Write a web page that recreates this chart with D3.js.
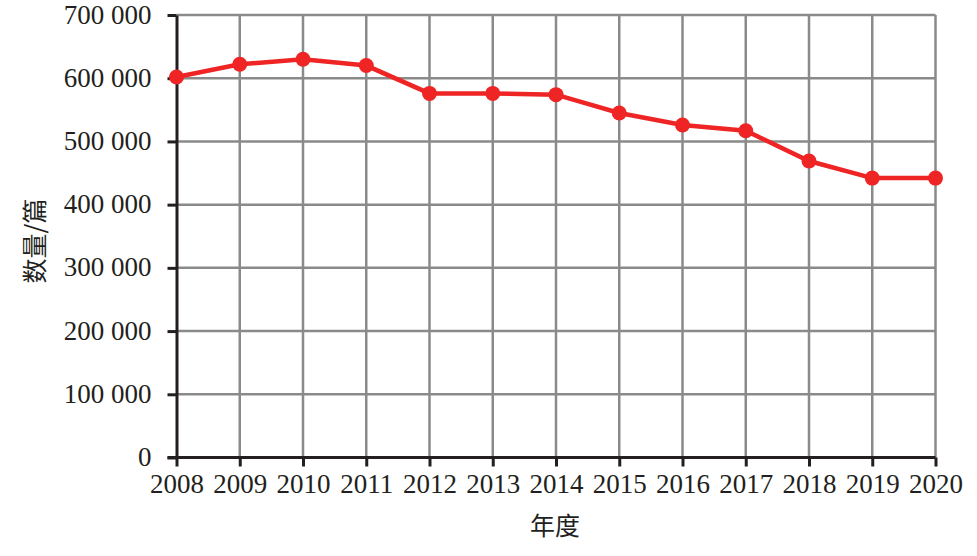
<!DOCTYPE html>
<html>
<head>
<meta charset="utf-8">
<script src="https://cdn.jsdelivr.net/npm/d3@7"></script>
<style>
  body { margin: 0; background: #fff; }
  .tick text { font-family: "Liberation Serif", "DejaVu Serif", serif; font-size: 27px; fill: #231f20; }
  .cjk { font-family: "Noto Sans CJK SC", sans-serif; font-size: 25px; fill: #231f20; }
</style>
</head>
<body>
<script>
var years = [2008, 2009, 2010, 2011, 2012, 2013, 2014, 2015, 2016, 2017, 2018, 2019, 2020];
var counts = [602000, 622000, 630000, 620000, 576000, 576000, 574000, 545000, 526000, 517000, 469000, 442000, 442000];
var yTicks = [0, 100000, 200000, 300000, 400000, 500000, 600000, 700000];

var w = 977, h = 556;
var mLeft = 176.5, mRight = 935.5, mTop = 15, mBottom = 457.5;
var lineColor = '#ee2524', gridColor = '#8a8a8a', axisColor = '#231f20';

var svg = d3.select('body')
    .append('svg')
    .attr('width', w)
    .attr('height', h);

var x = d3.scalePoint()
    .domain(years)
    .range([mLeft, mRight]);
var y = d3.scaleLinear()
    .domain([0, 700000])
    .range([mBottom, mTop]);

var fmt = function(d) {
    return d3.format(',')(d).replace(/,/g, ' ');
};

// grid
svg.append('g')
    .selectAll('line')
    .data(yTicks.slice(1))
    .join('line')
    .attr('x1', mLeft).attr('x2', mRight)
    .attr('y1', function(d) { return y(d); })
    .attr('y2', function(d) { return y(d); })
    .attr('stroke', gridColor)
    .attr('stroke-width', 2.5);
svg.append('g')
    .selectAll('line')
    .data(years.slice(1))
    .join('line')
    .attr('x1', function(d) { return x(d); })
    .attr('x2', function(d) { return x(d); })
    .attr('y1', mTop).attr('y2', mBottom)
    .attr('stroke', gridColor)
    .attr('stroke-width', 2.5);

// axes
var xAxis = svg.append('g')
    .attr('transform', 'translate(0,' + mBottom + ')')
    .call(d3.axisBottom(x).tickSize(9).tickPadding(6).tickSizeOuter(0));
var yAxis = svg.append('g')
    .attr('transform', 'translate(' + mLeft + ',0)')
    .call(d3.axisLeft(y).tickValues(yTicks).tickFormat(fmt).tickSize(9).tickPadding(16).tickSizeOuter(0));
[xAxis, yAxis].forEach(function(a) {
    a.select('.domain').attr('stroke', axisColor).attr('stroke-width', 3);
    a.selectAll('.tick line').attr('stroke', axisColor).attr('stroke-width', 3);
});
yAxis.selectAll('.tick text').attr('dy', '0.3em');
xAxis.selectAll('.tick text').attr('dy', '0.75em');
// extend x-axis to cover y-axis corner
xAxis.select('.domain').attr('d', 'M' + (mLeft - 9) + ',0H' + mRight);

// line
var data = years.map(function(d, i) { return {year: d, v: counts[i]}; });
svg.append('path')
    .datum(data)
    .attr('fill', 'none')
    .attr('stroke', lineColor)
    .attr('stroke-width', 4.5)
    .attr('d', d3.line()
        .x(function(d) { return x(d.year); })
        .y(function(d) { return y(d.v); }));
svg.append('g')
    .selectAll('circle')
    .data(data)
    .join('circle')
    .attr('cx', function(d) { return x(d.year); })
    .attr('cy', function(d) { return y(d.v); })
    .attr('r', 7.5)
    .attr('fill', lineColor);

// axis titles
svg.append('text')
    .attr('class', 'cjk')
    .attr('x', 555)
    .attr('y', 535)
    .attr('text-anchor', 'middle')
    .text('年度');
svg.append('text')
    .attr('class', 'cjk')
    .attr('transform', 'translate(44,' + 241 + ') rotate(-90)')
    .attr('text-anchor', 'middle')
    .text('数量/篇');
</script>
</body>
</html>
